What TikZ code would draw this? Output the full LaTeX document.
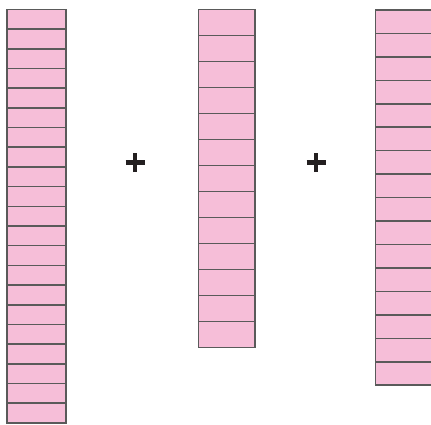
\documentclass[tikz,border=0pt]{standalone}
\definecolor{cellpink}{HTML}{F6BED8}
\definecolor{cellline}{HTML}{5A5A5A}
\definecolor{plusink}{HTML}{231F20}
\tikzset{
  cellbox/.style={fill=cellpink, draw=cellline, line width=1.6pt},
  plusbar/.style={draw=plusink, line width=4.2pt}
}
\begin{document}
\begin{tikzpicture}[x=1pt,y=-1pt]
\useasboundingbox (0,0) rectangle (431,425);
\clip (0,0) rectangle (431,425);
% column 1: 21 cells
\foreach \i in {0,...,20} {
  \path[cellbox] (7,{9.5+\i*19.68}) rectangle (66,{9.5+(\i+1)*19.68});
}
% column 2: 13 cells
\foreach \i in {0,...,12} {
  \path[cellbox] (198.5,{9.5+\i*26.0}) rectangle (255,{9.5+(\i+1)*26.0});
}
% column 3: 16 cells
\foreach \i in {0,...,15} {
  \path[cellbox] (375.5,{10+\i*23.45}) rectangle (434,{10+(\i+1)*23.45});
}
% plus signs
\coordinate (p1) at (135,162.5);
\coordinate (p2) at (316,162.5);
\foreach \p in {p1,p2} {
  \draw[plusbar] ([xshift=-9.5pt]\p) -- ([xshift=9.5pt]\p);
  \draw[plusbar] ([yshift=-9.5pt]\p) -- ([yshift=9.5pt]\p);
}
\end{tikzpicture}
\end{document}
